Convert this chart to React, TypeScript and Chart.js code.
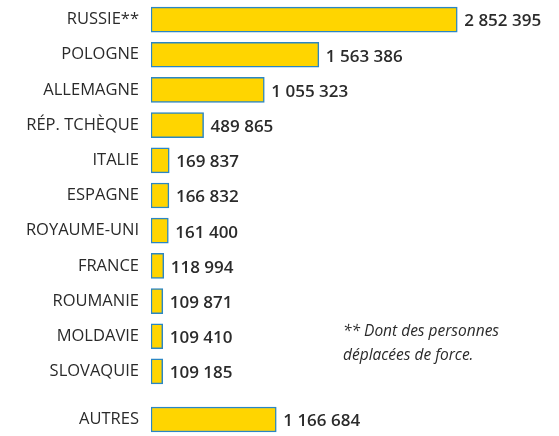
import React, { useEffect, useRef } from "react";
import { Chart, registerables } from "chart.js";

Chart.register(...registerables);

const countries = [
  "RUSSIE**",
  "POLOGNE",
  "ALLEMAGNE",
  "RÉP. TCHÈQUE",
  "ITALIE",
  "ESPAGNE",
  "ROYAUME-UNI",
  "FRANCE",
  "ROUMANIE",
  "MOLDAVIE",
  "SLOVAQUIE",
];
const values = [2852395, 1563386, 1055323, 489865, 169837, 166832, 161400, 118994, 109871, 109410, 109185];
const otherLabel = ["AUTRES"];
const otherValues = [1166684];
const footnote = ["** Dont des personnes", "déplacées de force."];

const X_MAX = 3800000;
const FILL = "#FFD500";
const BORDER = "#2A86C4";
const LABEL_FONT = "'Open Sans', sans-serif";

const fmt = (v: number) => v.toLocaleString("fr-FR").replace(/[\u202f\u00a0]/g, " ");

const valueLabels = {
  id: "valueLabels",
  afterDatasetsDraw(chart: any) {
    const ctx = chart.ctx;
    const meta = chart.getDatasetMeta(0);
    const data = chart.data.datasets[0].data as number[];
    ctx.save();
    ctx.font = `600 17px ${LABEL_FONT}`;
    ctx.fillStyle = "#2b2b2b";
    ctx.textAlign = "left";
    ctx.textBaseline = "middle";
    meta.data.forEach((el: any, i: number) => {
      ctx.fillText(fmt(data[i]), el.x + 7, el.y + 2);
    });
    ctx.restore();
  },
};

function makeConfig(labels: string[], data: number[]): any {
  return {
    type: "bar",
    data: {
      labels,
      datasets: [
        {
          data,
          backgroundColor: FILL,
          borderColor: BORDER,
          borderWidth: 1.5,
          borderSkipped: false,
          barThickness: 25,
        },
      ],
    },
    options: {
      indexAxis: "y",
      animation: false,
      responsive: false,
      maintainAspectRatio: false,
      layout: { padding: 0 },
      plugins: { legend: { display: false }, tooltip: { enabled: false } },
      scales: {
        x: { display: false, min: 0, max: X_MAX },
        y: {
          grid: { display: false, drawTicks: false },
          border: { display: false },
          afterFit: (s: any) => {
            s.width = 151;
            s.paddingTop = 0;
            s.paddingBottom = 0;
          },
          ticks: {
            padding: 12,
            color: "#2a2a2a",
            font: { family: LABEL_FONT, size: 16.5 },
          },
        },
      },
    },
    plugins: [valueLabels],
  };
}

export default function App() {
  const ref1 = useRef<HTMLCanvasElement>(null);
  const ref2 = useRef<HTMLCanvasElement>(null);

  useEffect(() => {
    const c1 = new Chart(ref1.current!, makeConfig(countries, values));
    const c2 = new Chart(ref2.current!, makeConfig(otherLabel, otherValues));
    return () => {
      c1.destroy();
      c2.destroy();
    };
  }, []);

  return (
    <div
      style={{
        position: "fixed",
        left: 0,
        top: 0,
        width: 559,
        height: 436,
        background: "#ffffff",
        overflow: "hidden",
      }}
    >
      <canvas
        ref={ref1}
        width={559}
        height={387}
        style={{ position: "absolute", left: 0, top: 2, width: 559, height: 387 }}
      />
      <canvas
        ref={ref2}
        width={559}
        height={35}
        style={{ position: "absolute", left: 0, top: 402, width: 559, height: 35 }}
      />
      <div
        style={{
          position: "absolute",
          left: 343,
          top: 318,
          fontFamily: LABEL_FONT,
          fontStyle: "italic",
          fontSize: 15.5,
          lineHeight: "24px",
          color: "#2a2a2a",
        }}
      >
        {footnote.map((t) => (
          <div key={t}>{t}</div>
        ))}
      </div>
    </div>
  );
}
